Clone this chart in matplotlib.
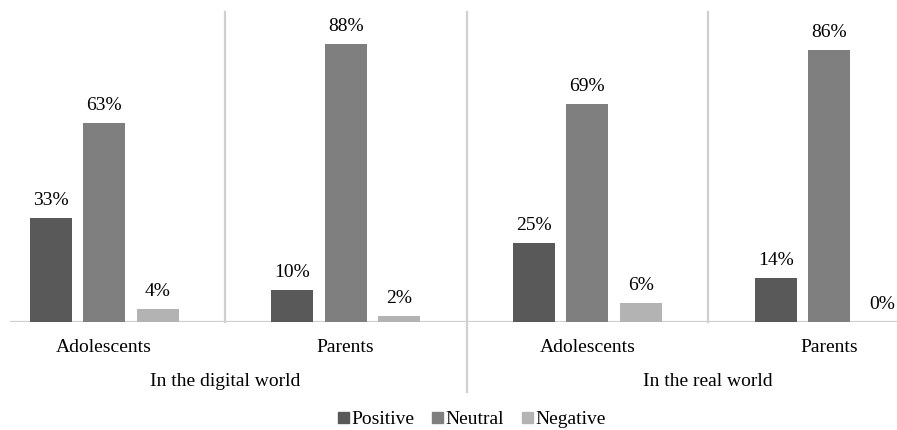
import matplotlib
matplotlib.use("Agg")
import matplotlib.pyplot as plt
from matplotlib.patches import Patch
import numpy as np

categories = ["Adolescents", "Parents", "Adolescents", "Parents"]
groups = ["In the digital world", "In the real world"]
series = ["Positive", "Neutral", "Negative"]
positive = [33, 10, 25, 14]
neutral = [63, 88, 69, 86]
negative = [4, 2, 6, 0]
colors = ["#595959", "#7f7f7f", "#b3b3b3"]

plt.rcParams["font.family"] = ["Liberation Serif", "DejaVu Serif"]
W, H = 897, 430
fig = plt.figure(figsize=(W / 100, H / 100), dpi=100)

# plot area in pixels (extends past the right edge, as in the original crop)
px_left, px_right, px_top, px_base = 10, 897, 12, 322
ax = fig.add_axes([px_left / W, 1 - px_base / H,
                   (px_right - px_left) / W, (px_base - px_top) / H])
step = 241.7
ax.set_xlim(-(104 - px_left) / step, (px_right - 104) / step)
ax.set_ylim(0, (px_base - px_top) / 3.16)
ax.axis("off")

x = np.arange(len(categories))
width = 42 / step
offset = 53.5 / step
for i, (vals, c, name) in enumerate(zip([positive, neutral, negative], colors, series)):
    xs = x + (i - 1) * offset
    ax.bar(xs, vals, width, color=c, label=name)
    for xi, v in zip(xs, vals):
        ax.annotate(f"{v}%", (xi, v), xytext=(0, 9.4), textcoords="offset points",
                    ha="center", va="baseline", fontsize=14, color="black")

line_c = "#d0d0d0"
ax.axhline(0, color=line_c, lw=1.6, zorder=0.5)

def fy(py):
    return 1 - py / H

def fx(dx):
    disp = ax.transData.transform((dx, 0))
    return fig.transFigure.inverted().transform(disp)[0]

# separators
for b in [0.5, 2.5]:
    fig.add_artist(plt.Line2D([fx(b), fx(b)], [fy(px_top), fy(px_base)],
                              color=line_c, lw=1.6))
fig.add_artist(plt.Line2D([fx(1.5), fx(1.5)], [fy(px_top), fy(392)],
                          color=line_c, lw=1.6))

for xi, lab in zip(x, categories):
    fig.text(fx(xi), fy(352), lab, ha="center", va="baseline", fontsize=14,
             color="black")
for gi, g in enumerate(groups):
    fig.text(fx(2 * gi + 0.5), fy(386), g, ha="center", va="baseline",
             fontsize=14, color="black")

handles = [Patch(color=c) for c in colors]
fig.legend(handles, series, loc="center", bbox_to_anchor=(472 / W, fy(420)), ncol=3,
           frameon=False, fontsize=14, handlelength=0.55, handleheight=0.55,
           handletextpad=0.15, columnspacing=0.9, borderpad=0)

fig.savefig("out.png", dpi=100)
